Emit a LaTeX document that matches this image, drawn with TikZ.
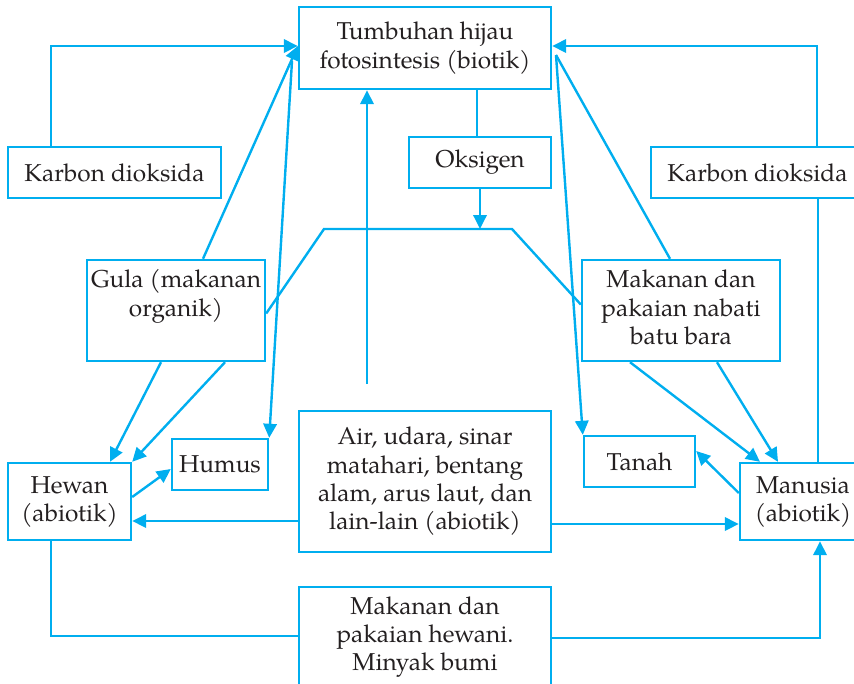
\documentclass[tikz,border=0pt]{standalone}
\usepackage{fontspec}
\setmainfont{TeX Gyre Pagella}
\usetikzlibrary{arrows.meta,calc}
\definecolor{cy}{RGB}{0,174,239}
\definecolor{tx}{RGB}{35,31,32}
\begin{document}
\begin{tikzpicture}[x=0.75pt,y=-0.75pt,
  box/.style={draw=cy,line width=1.8pt,align=center,inner sep=0pt,text=tx,
    font=\fontsize{18.3}{21.2}\selectfont},
  sz/.style 2 args={minimum width=#1*0.75pt,minimum height=#2*0.75pt},
  ln/.style={draw=cy,line width=1.8pt},
  arr/.style={ln,-{Triangle[length=10.5pt,width=10pt]}}]
\useasboundingbox (0,0) rectangle (854,683);
% boxes
\node[box,sz={252}{82}] (tum) at (425,48) {Tumbuhan hijau\\fotosintesis (biotik)};
\node[box,sz={142}{51}] (oks) at (480,162.5) {Oksigen};
\node[box,sz={213}{51}] (kl) at (114.5,172.5) {Karbon dioksida};
\node[box,sz={213}{51}] (kr) at (757.5,172.5) {Karbon dioksida};
\node[box,sz={178}{101}] (gula) at (176,310.5) {\strut Gula (makanan\\\strut organik)\\\strut};
\node[box,sz={198}{101}] (mn) at (681,310.5) {\strut Makanan dan\\\strut pakaian nabati\\\strut batu bara};
\node[box,sz={96}{51}] (hum) at (220,464.5) {Humus};
\node[box,sz={123}{77}] (hew) at (69.5,501.5) {\strut Hewan\\\strut (abiotik)};
\node[box,sz={252}{141}] (air) at (425,481.5) {\strut Air, udara, sinar\\\strut matahari, bentang\\\strut alam, arus laut, dan\\\strut lain-lain (abiotik)};
\node[box,sz={111}{51}] (tan) at (639.5,461.5) {Tanah};
\node[box,sz={126}{77}] (man) at (803,501.5) {\strut Manusia\\\strut (abiotik)};
\node[box,sz={252}{100}] (mh) at (425,637) {\strut Makanan dan\\\strut pakaian hewani.\\\strut Minyak bumi};
% helper points
\coordinate (t1) at (292,61);
\coordinate (t2) at (556,55);
\coordinate (jl) at (324,229);
\coordinate (jr) at (512,229);
\coordinate (jm) at (480,229);
\coordinate (a1) at (367,384);
% connectors
\draw[arr] (kl.north -| 51,0) |- (tum.west |- 0,46);
\draw[arr] (gula.north -| 203,0) -- (tum.west |- 0,46);
\draw[arr] (t1) -- (hum.north east);
\draw[arr] (a1) -- (tum.south -| a1);
\draw[ln] (tum.south -| 477,0) -- (oks.north -| 477,0);
\draw[arr] (oks.south -| jm) -- (jm);
\draw[ln] ($(gula.east)+(0,3)$) -- (jl) -- (jr) -- ($(mn.west)+(0,-6)$);
\draw[arr] (kr.north -| 817,0) |- (tum.east |- 0,46);
\draw[ln] (mn.north -| 670,0) -- (t2);
\draw[arr] (t2) -- (tan.north west);
\draw[ln] (kr.south -| 818,0) -- (man.north -| 818,0);
\draw[arr] (mn.south -| 630,0) -- (man.north -| 760,0);
\draw[arr] (mn.south -| 717,0) -- (man.north -| 778,0);
\draw[arr] (man.west |- 0,493) -- (tan.east |- 0,451);
\draw[arr] (air.east |- 0,524) -- (man.west |- 0,524);
\draw[arr] (air.west |- 0,521) -- (hew.east |- 0,521);
\draw[arr] (gula.south -| 161,0) -- (hew.north -| 110,0);
\draw[arr] (gula.south -| 225,0) -- (hew.north east);
\draw[arr] (hew.east |- 0,497) -- (hum.west |- 0,469);
\draw[ln] (hew.south -| 51,0) |- (mh.west |- 0,636);
\draw[arr] (mh.east |- 0,638) -| (man.south -| 820,0);
\end{tikzpicture}
\end{document}
